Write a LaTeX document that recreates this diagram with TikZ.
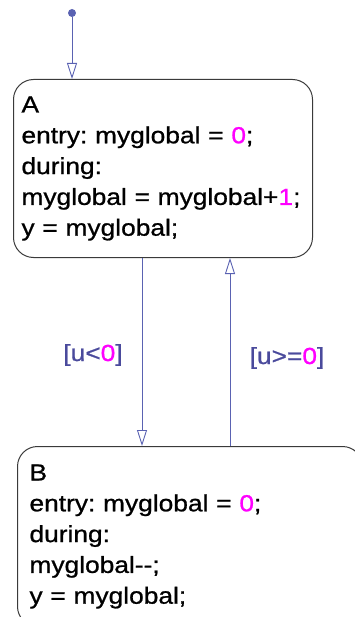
\documentclass[tikz,border=0pt]{standalone}
\usepackage{fontspec}
\usepackage{xcolor}
\usetikzlibrary{positioning, arrows.meta}
\newfontfamily\chartfont[FakeStretch=1.13, FakeBold=0.9]{Liberation Sans}
\frenchspacing
\definecolor{wire}{HTML}{5A62B2}
\definecolor{guard}{HTML}{4A4A9C}
\definecolor{numeral}{HTML}{FF00FF}
\definecolor{border}{HTML}{3A3A3A}
\newcommand{\num}[1]{\textcolor{numeral}{#1}}
\tikzset{
  state/.style={draw=border, line width=1pt, rounded corners=20pt, anchor=north west, align=left, font=\chartfont\fontsize{23.3}{30.8}\selectfont, inner ysep=0pt},
  initdot/.style={circle, fill=wire, inner sep=0pt, minimum size=8pt},
  trans/.style={-{Triangle[open, length=16pt, width=10pt, line width=0.9pt]}, line width=0.9pt, draw=wire},
  guardlabel/.style={text=guard, font=\chartfont\fontsize{23.3}{28}\selectfont, inner sep=0pt},
}

\begin{document}
\begin{tikzpicture}[x=1pt, y=-1pt]
  \useasboundingbox (0,0) rectangle (355,617);

  % States
  \node[state, minimum width=299pt, minimum height=178pt, text width=283pt, inner xsep=8pt] (A) at (13,79)
    {A\\entry: myglobal = \num{0};\\during:\\myglobal = myglobal+\num{1};\\y = myglobal;};
  \node[state, minimum width=345pt, minimum height=180pt, text width=321pt, inner xsep=12pt] (B) at (17,446)
    {B\\entry: myglobal = \num{0};\\during:\\myglobal--;\\y = myglobal;};

  % Default transition
  \node[initdot] (init) at (72,13) {};
  \draw[trans] (init) -- (A.north -| init);

  % Transitions between A and B
  \coordinate (down) at (142,0);
  \coordinate (up) at (230,0);
  \draw[trans] (A.south -| down) -- (B.north -| down);
  \draw[trans] (B.north -| up) -- (A.south -| up);

  % Guards
  \node[guardlabel] (ltzero) at (93,355) {[u<\num{0}]};
  \node[guardlabel] (gezero) at (287,358) {[u>=\num{0}]};
\end{tikzpicture}
\end{document}
